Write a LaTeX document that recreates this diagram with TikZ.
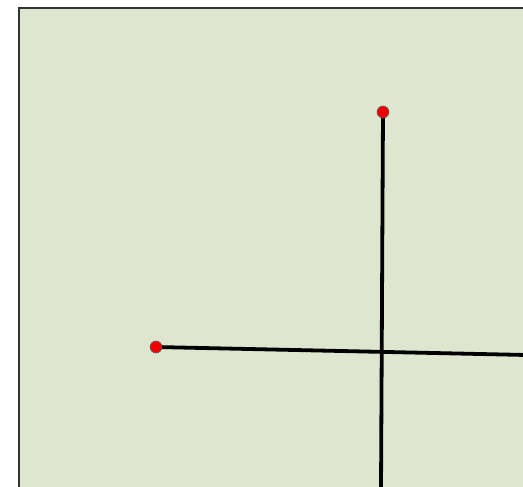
\documentclass[tikz,border=0pt]{standalone}
\usepackage{xcolor}
\usetikzlibrary{positioning,calc}
\definecolor{paper}{HTML}{DFE6D0}
\definecolor{frame}{HTML}{333333}
\definecolor{pin}{HTML}{EE0000}

\begin{document}
\begin{tikzpicture}[x=1pt,y=-1pt,
  pinpt/.style={circle,draw=black!60,fill=pin,inner sep=0pt,minimum size=12pt,line width=0.6pt},
  wire/.style={line width=3.8pt,black}]
  \useasboundingbox (0,0) rectangle (523,487);
  \fill[paper] (19,8) rectangle (530,495);
  \draw[frame,line width=1.8pt] (19,495) -- (19,8) -- (530,8);
  \coordinate (s) at (381,490);
  \coordinate (e) at (526,355);
  \draw[wire] (383,112) -- (s);
  \draw[wire] (156,347) -- (e);
  \node[pinpt] (top) at (383,112) {};
  \node[pinpt] (left) at (156,347) {};
\end{tikzpicture}
\end{document}
